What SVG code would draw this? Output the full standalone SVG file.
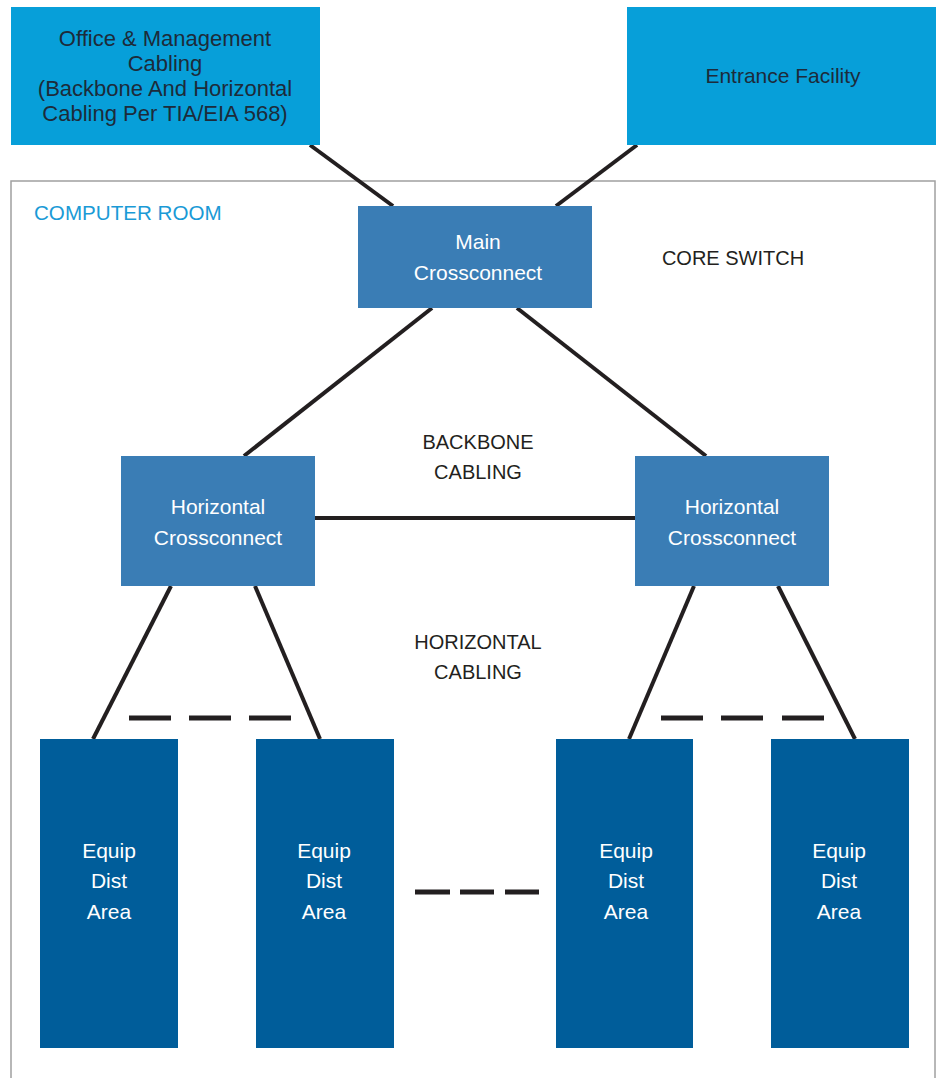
<svg xmlns="http://www.w3.org/2000/svg" width="937" height="1078" viewBox="0 0 937 1078">
<style>
.t{font-family:"Liberation Sans","DejaVu Sans",sans-serif;text-anchor:middle}
.top{fill:#1d2b3a;font-size:21px}
.w{fill:#ffffff;font-size:21px}
.lbl{fill:#231f20;font-size:20px}
.ln{stroke:#231f20;stroke-width:4;fill:none}
.ds{stroke:#231f20;stroke-width:5;fill:none}
.ext{fill:#079fd9}
.mid{fill:#3a7db5}
.eda{fill:#005d9a}
</style>
<g id="computer-room">
<rect x="11" y="181" width="924" height="920" fill="#ffffff" stroke="#a0a0a0" stroke-width="1.5"/>
<text x="34" y="220" class="t" style="text-anchor:start;fill:#1a9ad6;font-size:20.6px">COMPUTER ROOM</text>
</g>
<g id="connectors">
<line class="ln" x1="310" y1="145" x2="393" y2="206"/>
<line class="ln" x1="637" y1="145" x2="556" y2="206"/>
<line class="ln" x1="432" y1="308" x2="244" y2="456"/>
<line class="ln" x1="517" y1="308" x2="706" y2="456"/>
<line class="ln" x1="315" y1="518" x2="635" y2="518"/>
<line class="ln" x1="171" y1="586" x2="93" y2="739"/>
<line class="ln" x1="255" y1="586" x2="320" y2="739"/>
<line class="ln" x1="694" y1="586" x2="629" y2="739"/>
<line class="ln" x1="778" y1="586" x2="855" y2="739"/>
<line class="ds" x1="129" y1="718" x2="171" y2="718"/>
<line class="ds" x1="189" y1="718" x2="231" y2="718"/>
<line class="ds" x1="249" y1="718" x2="291" y2="718"/>
<line class="ds" x1="661" y1="718" x2="703" y2="718"/>
<line class="ds" x1="721" y1="718" x2="763" y2="718"/>
<line class="ds" x1="782" y1="718" x2="824" y2="718"/>
<line class="ds" x1="415" y1="892" x2="450" y2="892"/>
<line class="ds" x1="460" y1="892" x2="494" y2="892"/>
<line class="ds" x1="505" y1="892" x2="539" y2="892"/>
</g>
<g id="office-management">
<rect class="ext" x="11" y="7" width="309" height="138"/>
<text class="t top" x="165" y="46" style="font-size:22px">Office &amp; Management</text>
<text class="t top" x="165" y="71" style="font-size:22px">Cabling</text>
<text class="t top" x="165" y="96" style="font-size:22px">(Backbone And Horizontal</text>
<text class="t top" x="165" y="121" style="font-size:22px">Cabling Per TIA/EIA 568)</text>
</g>
<g id="entrance-facility">
<rect class="ext" x="627" y="7" width="309" height="138"/>
<text class="t top" x="783" y="83">Entrance Facility</text>
</g>
<g id="main-crossconnect">
<rect class="mid" x="358" y="206" width="234" height="102"/>
<text class="t w" x="478" y="249">Main</text>
<text class="t w" x="478" y="280">Crossconnect</text>
</g>
<g id="core-switch-label">
<text class="t lbl" x="733" y="265">CORE SWITCH</text>
</g>
<g id="backbone-label">
<text class="t lbl" x="478" y="449">BACKBONE</text>
<text class="t lbl" x="478" y="479">CABLING</text>
</g>
<g id="horizontal-label">
<text class="t lbl" x="478" y="649">HORIZONTAL</text>
<text class="t lbl" x="478" y="679">CABLING</text>
</g>
<g id="hc-left">
<rect class="mid" x="121" y="456" width="194" height="130"/>
<text class="t w" x="218" y="514">Horizontal</text>
<text class="t w" x="218" y="545">Crossconnect</text>
</g>
<g id="hc-right">
<rect class="mid" x="635" y="456" width="194" height="130"/>
<text class="t w" x="732" y="514">Horizontal</text>
<text class="t w" x="732" y="545">Crossconnect</text>
</g>
<g id="eda-1">
<rect class="eda" x="40" y="739" width="138" height="309"/>
<text class="t w" x="109" y="858">Equip</text>
<text class="t w" x="109" y="888">Dist</text>
<text class="t w" x="109" y="919">Area</text>
</g>
<g id="eda-2">
<rect class="eda" x="256" y="739" width="138" height="309"/>
<text class="t w" x="324" y="858">Equip</text>
<text class="t w" x="324" y="888">Dist</text>
<text class="t w" x="324" y="919">Area</text>
</g>
<g id="eda-3">
<rect class="eda" x="556" y="739" width="137" height="309"/>
<text class="t w" x="626" y="858">Equip</text>
<text class="t w" x="626" y="888">Dist</text>
<text class="t w" x="626" y="919">Area</text>
</g>
<g id="eda-4">
<rect class="eda" x="771" y="739" width="138" height="309"/>
<text class="t w" x="839" y="858">Equip</text>
<text class="t w" x="839" y="888">Dist</text>
<text class="t w" x="839" y="919">Area</text>
</g>
</svg>
